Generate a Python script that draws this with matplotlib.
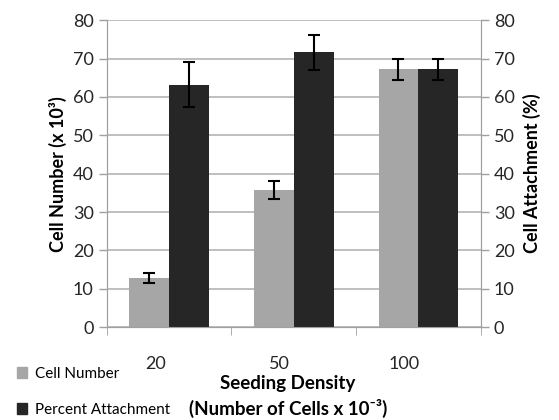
import numpy as np
import matplotlib.pyplot as plt
import matplotlib.transforms as mtransforms
from matplotlib.patches import Patch

# dados
densidades = ['20', '50', '100']
numero_celulas = [12.8, 35.7, 67.2]
erro_numero = [1.3, 2.3, 2.7]
percentual_adesao = [63.2, 71.6, 67.2]
erro_adesao = [5.8, 4.5, 2.7]

cor_clara = '#a6a6a6'
cor_escura = '#262626'
cor_eixo = '#a0a0a0'

plt.rcParams['font.family'] = ['Lato', 'DejaVu Sans']

fig = plt.figure(figsize=(5.59, 4.2), dpi=100)
ax = fig.add_axes([0.191, 0.221, 0.669, 0.731])
ax2 = ax.twinx()

x = np.arange(len(densidades))
largura = 0.32
erro_kw = dict(ecolor='black', elinewidth=1.5, capsize=4, capthick=1.5)
ax.bar(x - largura / 2, numero_celulas, largura, color=cor_clara,
       yerr=erro_numero, error_kw=erro_kw, zorder=3)
ax.bar(x + largura / 2, percentual_adesao, largura, color=cor_escura,
       yerr=erro_adesao, error_kw=erro_kw, zorder=3)

for a in (ax, ax2):
    a.set_ylim(0, 80)
    a.set_yticks(range(0, 81, 10))
    a.tick_params(axis='y', labelsize=13, colors=cor_eixo, labelcolor='#262626',
                  length=6, width=1)
    a.spines['top'].set_visible(False)
    for s in ('left', 'right', 'bottom'):
        a.spines[s].set_color(cor_eixo)

ax.set_xlim(-0.5, 2.5)
ax.yaxis.grid(True, color='#b4b4b4', linewidth=1.2, zorder=0)
ax.set_axisbelow(True)

# marcas nas divisões das categorias
ax.set_xticks(np.arange(-0.5, 3, 1), minor=True)
ax.tick_params(axis='x', which='minor', length=6, color=cor_eixo, direction='out')
ax.set_xticks(x, densidades)
ax.tick_params(axis='x', which='major', length=0, pad=21, labelsize=13,
               labelcolor='#262626')
desloca = mtransforms.ScaledTranslation(-0.14, 0, fig.dpi_scale_trans)
for rotulo in ax.get_xticklabels():
    rotulo.set_transform(rotulo.get_transform() + desloca)

ax.set_ylabel('Cell Number (x 10³)', fontsize=13, fontweight='bold', labelpad=4)
ax2.set_ylabel('Cell Attachment (%)', fontsize=13, fontweight='bold', labelpad=6)

fig.text(0.515, 0.088, 'Seeding Density', ha='center', va='center',
         fontsize=13.5, fontweight='bold')
fig.text(0.515, 0.027, '(Number of Cells x 10⁻³)', ha='center', va='center',
         fontsize=13.5, fontweight='bold')

handles = [Patch(color=cor_clara, label='Cell Number'),
           Patch(color=cor_escura, label='Percent Attachment')]
fig.legend(handles=handles, loc='lower left', bbox_to_anchor=(0.005, -0.025),
           frameon=False, fontsize=11, handlelength=0.7, handleheight=0.7,
           handletextpad=0.5, labelspacing=1.45)

fig.savefig('out.png', dpi=100)
